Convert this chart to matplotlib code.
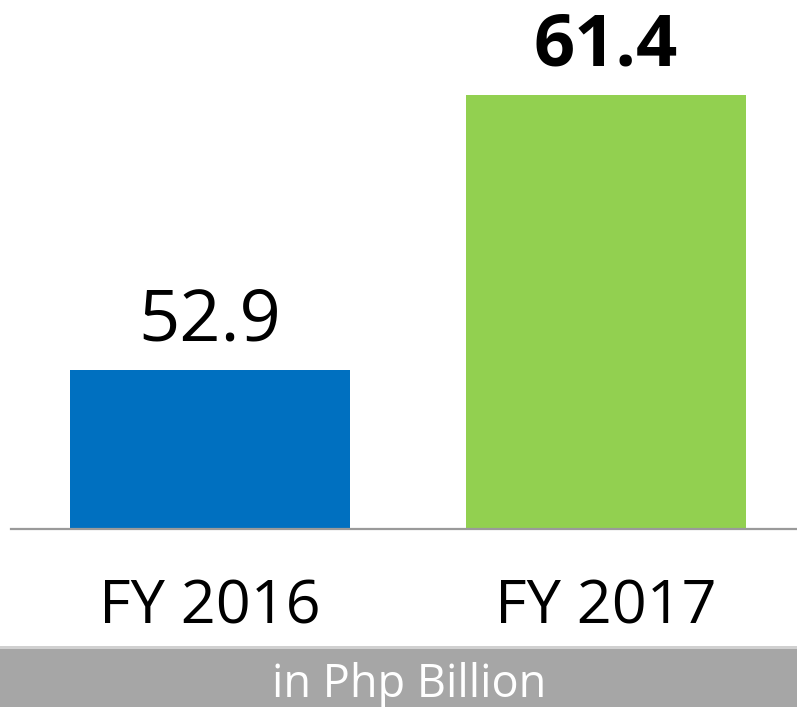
import matplotlib
matplotlib.use("Agg")
import matplotlib.pyplot as plt
from matplotlib.patches import Rectangle
from matplotlib.transforms import blended_transform_factory

categories = ["FY 2016", "FY 2017"]
values = [52.9, 61.4]
value_labels = ["52.9", "61.4"]
bar_colors = ["#0070C0", "#92D050"]
label_weights = ["normal", "bold"]
unit_text = "in Php Billion"

plt.rcParams['font.family'] = ['Open Sans', 'DejaVu Sans']

W, H = 797, 707
fig = plt.figure(figsize=(W / 100, H / 100), dpi=100)
fig.patch.set_facecolor("white")

base_px = 529
ax = fig.add_axes([11 / W, (H - base_px) / H, (W - 11) / W, base_px / H])
ax.set_facecolor("none")

x = list(range(len(categories)))
ax.bar(x, values, width=0.707, color=bar_colors, zorder=2)
ax.set_xlim(-0.5025, 1.482)
ax.set_ylim(48.0, 64.35)

for s in ["top", "right", "left"]:
    ax.spines[s].set_visible(False)
ax.spines["bottom"].set_color("#9A9A9A")
ax.spines["bottom"].set_linewidth(1.6)
ax.set_yticks([])
ax.set_xticks([])

for xi, v, lab, wt in zip(x, values, value_labels, label_weights):
    ax.annotate(lab, xy=(xi, v), xytext=(0, 21.6), textcoords="offset points",
                ha="center", va="baseline", fontsize=52, fontweight=wt, color="black")

trans = blended_transform_factory(ax.transData, ax.transAxes)
for xi, c in zip(x, categories):
    ax.annotate(c, xy=(xi, 0), xycoords=trans, xytext=(0, -94 * 0.72),
                textcoords="offset points", ha="center", va="baseline",
                fontsize=44, color="black", annotation_clip=False)

# gray banner at bottom
fig.patches.append(Rectangle((0, 0), 1, 60 / H, transform=fig.transFigure,
                             facecolor="#A6A6A6", edgecolor="none", zorder=0))
fig.patches.append(Rectangle((0, 58 / H), 1, 3 / H, transform=fig.transFigure,
                             facecolor="#D0D0D0", edgecolor="none", zorder=0))
fig.text(409 / W, (H - 697) / H, unit_text, ha="center", va="baseline",
         fontsize=32.5, color="white")

fig.savefig("out.png", dpi=100)
